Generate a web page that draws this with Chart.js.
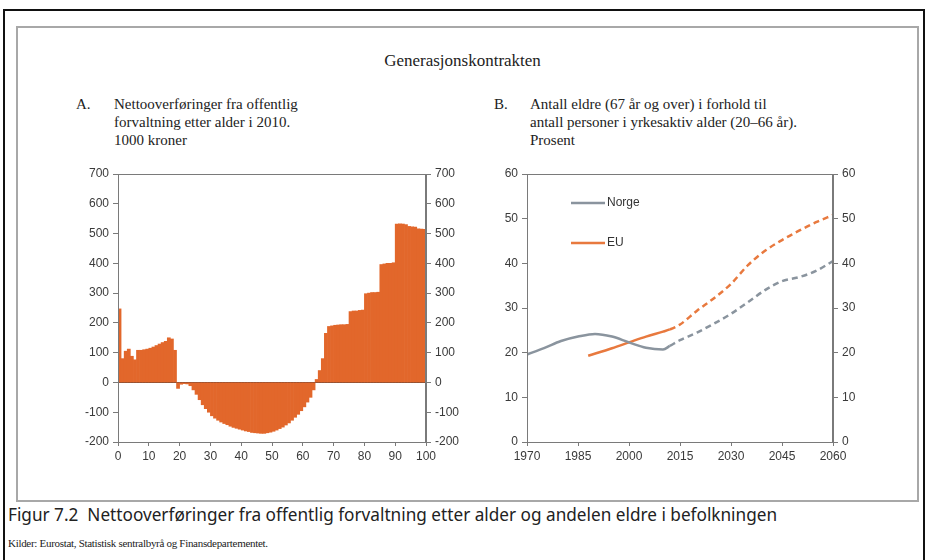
<!DOCTYPE html>
<html>
<head>
<meta charset="utf-8">
<script src="https://cdn.jsdelivr.net/npm/chart.js@4/dist/chart.umd.min.js"></script>
<style>
  body { margin: 0; background: #fff; width: 925px; height: 560px; overflow: hidden; position: relative; }
  .frame { position: absolute; left: 3px; top: 9px; width: 918px; height: 600px; border: 2px solid #111; }
  .box { position: absolute; left: 16px; top: 26px; width: 899px; height: 472px; border: 2px solid #a8a8a8; }
  .serif { font-family: "Liberation Serif", "DejaVu Serif", serif; color: #222; position: absolute; }
  .main-title { left: 0; width: 925px; top: 51px; text-align: center; font-size: 17px; }
  .ptitle { font-size: 15px; line-height: 18px; }
  .caption { position: absolute; left: 8px; top: 503px; font-family: "Noto Sans", sans-serif; font-size: 17.2px; color: #222; }
  .source { left: 8px; top: 537px; font-size: 11px; letter-spacing: -0.3px; }
  canvas { position: absolute; }
</style>
</head>
<body>
<div class="frame"></div>
<div class="box"></div>
<div class="serif main-title">Generasjonskontrakten</div>
<div class="serif ptitle" style="left:76px; top:95px;">A.</div>
<div class="serif ptitle" style="left:114px; top:95px;">Nettooverføringer fra offentlig<br>forvaltning etter alder i 2010.<br>1000 kroner</div>
<div class="serif ptitle" style="left:494px; top:95px;">B.</div>
<div class="serif ptitle" style="left:530px; top:95px;">Antall eldre (67 år og over) i forhold til<br>antall personer i yrkesaktiv alder (20–66 år).<br>Prosent</div>
<div class="caption">Figur 7.2&nbsp; Nettooverføringer fra offentlig forvaltning etter alder og andelen eldre i befolkningen</div>
<div class="serif source">Kilder: Eurostat, Statistisk sentralbyrå og Finansdepartementet.</div>

<div style="position:absolute; left:60px; top:160px; width:420px; height:310px;"><canvas id="transferChart"></canvas></div>
<div style="position:absolute; left:470px; top:160px; width:420px; height:310px;"><canvas id="elderlyChart"></canvas></div>

<script>
// Panel A: net transfers by age (1000 NOK), one bar per age 0-99
const ages = Array.from({ length: 100 }, (_, i) => i);
const netTransfers = [
  247, 80, 105, 112, 88, 76, 108, 108, 110, 112,
  115, 119, 124, 129, 134, 138, 150, 146, 108, -20,
  -6, -4, -5, -11, -25, -40, -58, -75, -88, -100,
  -112, -120, -127, -133, -138, -142, -147, -151, -154, -157,
  -160, -163, -165, -168, -169, -170, -171, -171, -169, -167,
  -164, -160, -155, -150, -143, -136, -127, -117, -107, -95,
  -82, -66, -50, -25, 10, 40, 80, 165, 188, 190,
  192, 193, 194, 194, 195, 238, 240, 240, 242, 243,
  298, 300, 302, 302, 303, 396, 398, 400, 400, 402,
  532, 533, 532, 530, 524, 523, 522, 516, 515, 514
];
const transferTicks = [-200, 700];

// Panel B: elderly per working-age person (%)
const norgeYears = [1970, 1975, 1980, 1985, 1990, 1995, 2000, 2005, 2010, 2012, 2015, 2020, 2025, 2030, 2035, 2040, 2045, 2050, 2055, 2060];
const norgeValues = [19.6, 21.0, 22.6, 23.6, 24.2, 23.6, 22.3, 21.1, 20.7, 21.5, 22.8, 24.5, 26.5, 28.7, 31.3, 34.0, 36.0, 36.9, 38.3, 40.5];
const euYears = [1988, 1995, 2000, 2005, 2010, 2012, 2015, 2020, 2025, 2030, 2035, 2040, 2045, 2050, 2055, 2060];
const euValues = [19.3, 21.0, 22.3, 23.6, 24.7, 25.2, 26.3, 29.4, 32.2, 35.4, 39.6, 42.8, 45.2, 47.3, 49.2, 50.8];
const projectionStart = 2012;
const elderlyTicks = [0, 60];
const yearTicks = [1970, 2060];

const tickFont = { family: '"Liberation Sans", Arial, sans-serif', size: 12 };
const tickColor = '#3a3a3a';
const axisColor = '#7a7a7a';

const framePlugin = {
  id: 'frame',
  afterDraw(chart) {
    const { ctx, chartArea: a } = chart;
    ctx.save();
    ctx.strokeStyle = axisColor;
    ctx.lineWidth = 1;
    ctx.strokeRect(a.left + 0.5, a.top + 0.5, a.right - a.left - 1, a.bottom - a.top);
    ctx.restore();
  }
};

function yAxis(min, max, step, position, width) {
  return {
    type: 'linear', position, min, max,
    border: { display: true, color: axisColor },
    grid: { drawOnChartArea: false, color: axisColor, tickLength: 5 },
    ticks: { stepSize: step, font: tickFont, color: tickColor, padding: 4 },
    afterFit(scale) { scale.width = width; }
  };
}

// 1. Net transfers bar chart
const ctxTransfer = document.getElementById('transferChart').getContext('2d');
new Chart(ctxTransfer, {
  type: 'bar',
  data: {
    datasets: [{
      data: ages.map((a, i) => ({ x: a + 0.5, y: netTransfers[i] })),
      backgroundColor: '#e2672b',
      borderWidth: 0,
      barPercentage: 1,
      categoryPercentage: 1
    }]
  },
  options: {
    responsive: true, maintainAspectRatio: false, animation: false,
    layout: { padding: { top: 14, left: 0, right: 0, bottom: 0 } },
    plugins: { legend: { display: false }, tooltip: { enabled: false } },
    scales: {
      x: {
        type: 'linear', min: 0, max: 100, offset: false,
        border: { display: true, color: axisColor },
        grid: { drawOnChartArea: false, color: axisColor, tickLength: 4, offset: false },
        ticks: { stepSize: 10, font: tickFont, color: tickColor, padding: 3, maxRotation: 0 },
        afterFit(scale) { scale.height = 28; }
      },
      y: {
        ...yAxis(transferTicks[0], transferTicks[1], 100, 'left', 58),
        z: 1,
        grid: {
          drawOnChartArea: true, tickLength: 5, tickColor: axisColor,
          color: c => c.tick && c.tick.value === 0 ? '#7a4a36' : 'rgba(0,0,0,0)'
        }
      },
      y2: yAxis(transferTicks[0], transferTicks[1], 100, 'right', 54)
    }
  },
  plugins: [framePlugin]
});

// 2. Elderly ratio line chart
const legendPlugin = {
  id: 'insideLegend',
  afterDraw(chart) {
    const { ctx, chartArea: a } = chart;
    const items = [['Norge', '#8a949e'], ['EU', '#e8793e']];
    ctx.save();
    ctx.font = '12px "Liberation Sans", Arial, sans-serif';
    ctx.textBaseline = 'middle';
    items.forEach(([label, color], i) => {
      const y = a.top + 29 + i * 40;
      ctx.strokeStyle = color;
      ctx.lineWidth = 2.5;
      ctx.beginPath();
      ctx.moveTo(a.left + 44, y);
      ctx.lineTo(a.left + 78, y);
      ctx.stroke();
      ctx.fillStyle = '#333';
      ctx.fillText(label, a.left + 80, y);
    });
    ctx.restore();
  }
};

const dashAfter = (c) => c.p0.parsed.x >= projectionStart ? [6, 4] : undefined;

const ctxElderly = document.getElementById('elderlyChart').getContext('2d');
new Chart(ctxElderly, {
  type: 'line',
  data: {
    datasets: [
      {
        label: 'Norge',
        data: norgeYears.map((yr, i) => ({ x: yr, y: norgeValues[i] })),
        borderColor: '#8a949e', borderWidth: 2.5, pointRadius: 0,
        cubicInterpolationMode: 'monotone',
        segment: { borderDash: dashAfter }
      },
      {
        label: 'EU',
        data: euYears.map((yr, i) => ({ x: yr, y: euValues[i] })),
        borderColor: '#e8793e', borderWidth: 2.5, pointRadius: 0,
        cubicInterpolationMode: 'monotone',
        segment: { borderDash: dashAfter }
      }
    ]
  },
  options: {
    responsive: true, maintainAspectRatio: false, animation: false,
    layout: { padding: { top: 14, left: 0, right: 0, bottom: 0 } },
    plugins: { legend: { display: false }, tooltip: { enabled: false } },
    scales: {
      x: {
        type: 'linear', min: yearTicks[0], max: yearTicks[1],
        border: { display: true, color: axisColor },
        grid: { drawOnChartArea: false, color: axisColor, tickLength: 4 },
        ticks: { stepSize: 15, font: tickFont, color: tickColor, padding: 3, maxRotation: 0, callback: v => String(v) },
        afterFit(scale) { scale.height = 28; }
      },
      y: yAxis(elderlyTicks[0], elderlyTicks[1], 10, 'left', 57),
      y2: yAxis(elderlyTicks[0], elderlyTicks[1], 10, 'right', 57)
    }
  },
  plugins: [framePlugin, legendPlugin]
});
</script>
</body>
</html>
